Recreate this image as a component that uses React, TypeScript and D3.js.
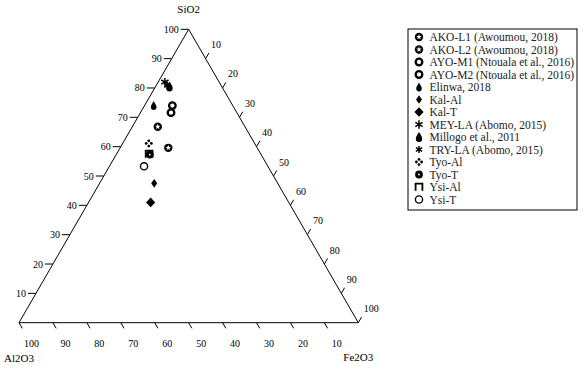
import React from "react";
import * as d3 from "d3";

const samples = [
  "AKO-L1 (Awoumou, 2018)",
  "AKO-L2 (Awoumou, 2018)",
  "AYO-M1 (Ntouala et al., 2016)",
  "AYO-M2 (Ntouala et al., 2016)",
  "Elinwa, 2018",
  "Kal-Al",
  "Kal-T",
  "MEY-LA (Abomo, 2015)",
  "Millogo et al., 2011",
  "TRY-LA (Abomo, 2015)",
  "Tyo-Al",
  "Tyo-T",
  "Ysi-Al",
  "Ysi-T",
];
const symbolKeys = [
  "starCircle", "starCircle", "ring", "ring", "drop", "diamondSmall", "diamondBig",
  "asterisk", "dropBig", "asteriskSmall", "fourDots", "cog", "openSquare", "openCircle",
];
const sio2 = [66.8, 59.6, 74.0, 71.6, 74.0, 47.5, 41.0, 82.0, 80.5, 80.8, 61.1, 57.3, 57.5, 53.3];
const fe2o3 = [7.5, 14.2, 8.2, 9.0, 2.7, 16.1, 18.3, 2.0, 4.1, 3.3, 7.7, 9.9, 9.6, 10.2];
const al2o3 = sio2.map((s, i) => +(100 - s - fe2o3[i]).toFixed(1));

const tickValues = [10, 20, 30, 40, 50, 60, 70, 80, 90, 100];

const X0 = 19, X1 = 358.3, YB = 322.7, YT = 29.3;
const xScale = d3.scaleLinear().domain([0, 100]).range([X0, X1]);
const yScale = d3.scaleLinear().domain([0, 100]).range([YB, YT]);

// ternary projection: (SiO2, Al2O3, Fe2O3) -> screen
function proj(s: number, a: number, f: number): [number, number] {
  const sum = s + a + f;
  const sn = (s / sum) * 100, fn = (f / sum) * 100;
  return [xScale(fn + sn / 2), yScale(sn)];
}

function starPath(ro: number, ri: number) {
  const pts: string[] = [];
  for (let i = 0; i < 10; i++) {
    const r = i % 2 === 0 ? ro : ri;
    const ang = -Math.PI / 2 + (i * Math.PI) / 5;
    pts.push(`${(r * Math.cos(ang)).toFixed(2)},${(r * Math.sin(ang)).toFixed(2)}`);
  }
  return "M" + pts.join("L") + "Z";
}

function Sym({ k }: { k: string }) {
  switch (k) {
    case "starCircle":
      return (
        <g>
          <circle r={4.2} fill="#000" />
          <path d={starPath(2.9, 1.2)} fill="#fff" />
        </g>
      );
    case "ring":
      return <circle r={3.3} fill="#fff" stroke="#000" strokeWidth={2.3} />;
    case "drop":
      return <path d="M0,-4.5 C1.2,-2 2.8,-0.5 2.8,1.6 A2.8,2.8 0 0 1 -2.8,1.6 C-2.8,-0.5 -1.2,-2 0,-4.5Z" fill="#000" />;
    case "dropBig":
      return <path d="M0,-5 C1.4,-2.3 3.2,-0.6 3.2,1.8 A3.2,3.2 0 0 1 -3.2,1.8 C-3.2,-0.6 -1.4,-2.3 0,-5Z" fill="#000" />;
    case "diamondSmall":
      return <path d="M0,-4.3 L3,0 L0,4.3 L-3,0Z" fill="#000" />;
    case "diamondBig":
      return <path d="M0,-4.8 L4.6,0 L0,4.8 L-4.6,0Z" fill="#000" />;
    case "asterisk":
    case "asteriskSmall": {
      const r = k === "asterisk" ? 4.2 : 3.6;
      const lines = [0, 60, 120].map((deg) => {
        const a = ((deg + 90) * Math.PI) / 180;
        return `M${(r * Math.cos(a)).toFixed(2)},${(r * Math.sin(a)).toFixed(2)}L${(-r * Math.cos(a)).toFixed(2)},${(-r * Math.sin(a)).toFixed(2)}`;
      });
      return <path d={lines.join("")} stroke="#000" strokeWidth={1.5} fill="none" />;
    }
    case "fourDots":
      return (
        <g fill="#000">
          <circle cx={0} cy={-2.6} r={1.4} />
          <circle cx={0} cy={2.6} r={1.4} />
          <circle cx={-2.6} cy={0} r={1.4} />
          <circle cx={2.6} cy={0} r={1.4} />
        </g>
      );
    case "cog":
      return (
        <g>
          <circle r={3.9} fill="#000" />
          <circle r={0.9} fill="#fff" />
        </g>
      );
    case "openSquare":
      return <path d="M-3.4,3.8 V-3.4 H3.4 V3.8" fill="none" stroke="#000" strokeWidth={1.8} />;
    case "openCircle":
      return <circle r={3.6} fill="#fff" stroke="#000" strokeWidth={1.4} />;
    default:
      return null;
  }
}

export default function App() {
  const font = "'Liberation Serif', 'Times New Roman', serif";
  const top = proj(100, 0, 0);
  const left = proj(0, 100, 0);
  const right = proj(0, 0, 100);
  const c30 = Math.cos(Math.PI / 3), s60 = Math.sin(Math.PI / 3);

  const legendX = 408, legendY = 29, legendW = 169, legendH = 181;
  const rowY0 = 37, rowStep = 12.5;

  return (
    <svg width={585} height={373} style={{ position: "absolute", left: 0, top: 0 }} fontFamily={font}>
      <rect width={585} height={373} fill="#fff" />
      <path
        d={`M${left[0]},${left[1]}L${top[0]},${top[1]}L${right[0]},${right[1]}Z`}
        fill="none"
        stroke="#000"
        strokeWidth={1}
      />
      {/* SiO2 ticks on left edge */}
      {tickValues.map((v) => {
        const [x, y] = proj(v, 100 - v, 0);
        return (
          <g key={"s" + v}>
            <line x1={x} y1={y} x2={x - 8} y2={y} stroke="#000" />
            <text x={x - 10} y={y} dy="0.35em" textAnchor="end" fontSize={10}>
              {v}
            </text>
          </g>
        );
      })}
      {/* Fe2O3 ticks on right edge */}
      {tickValues.map((v) => {
        const [x, y] = proj(100 - v, 0, v);
        return (
          <g key={"f" + v}>
            <line x1={x} y1={y} x2={x + 6.5 * c30} y2={y - 6.5 * s60} stroke="#000" />
            <text x={x + 5.5} y={y - 14} dy="0.35em" textAnchor="start" fontSize={10}>
              {v}
            </text>
          </g>
        );
      })}
      {/* Al2O3 ticks on bottom edge */}
      {tickValues.map((v) => {
        const [x, y] = proj(0, v, 100 - v);
        return (
          <g key={"a" + v}>
            <line x1={x} y1={y} x2={x + 6.5 * c30} y2={y + 6.5 * s60} stroke="#000" />
            <text x={x + 12.5} y={y + 21} dy="0.35em" textAnchor="middle" fontSize={10}>
              {v}
            </text>
          </g>
        );
      })}
      <text x={top[0]} y={9} dy="0.35em" textAnchor="middle" fontSize={11}>SiO2</text>
      <text x={left[0]} y={358} dy="0.35em" textAnchor="middle" fontSize={11}>Al2O3</text>
      <text x={right[0]} y={357} dy="0.35em" textAnchor="middle" fontSize={11}>Fe2O3</text>

      {/* data points */}
      {samples.map((name, i) => {
        const [x, y] = proj(sio2[i], al2o3[i], fe2o3[i]);
        return (
          <g key={"p" + i} transform={`translate(${x},${y})`}>
            <Sym k={symbolKeys[i]} />
          </g>
        );
      })}

      {/* legend */}
      <rect x={legendX} y={legendY} width={legendW} height={legendH} fill="#fff" stroke="#000" strokeWidth={1} />
      {samples.map((name, i) => {
        const y = rowY0 + i * rowStep;
        return (
          <g key={"l" + i}>
            <g transform={`translate(419,${y})`}>
              <Sym k={symbolKeys[i]} />
            </g>
            <text x={429.5} y={y} dy="0.35em" fontSize={11.5} fill="#222">
              {name}
            </text>
          </g>
        );
      })}
    </svg>
  );
}
